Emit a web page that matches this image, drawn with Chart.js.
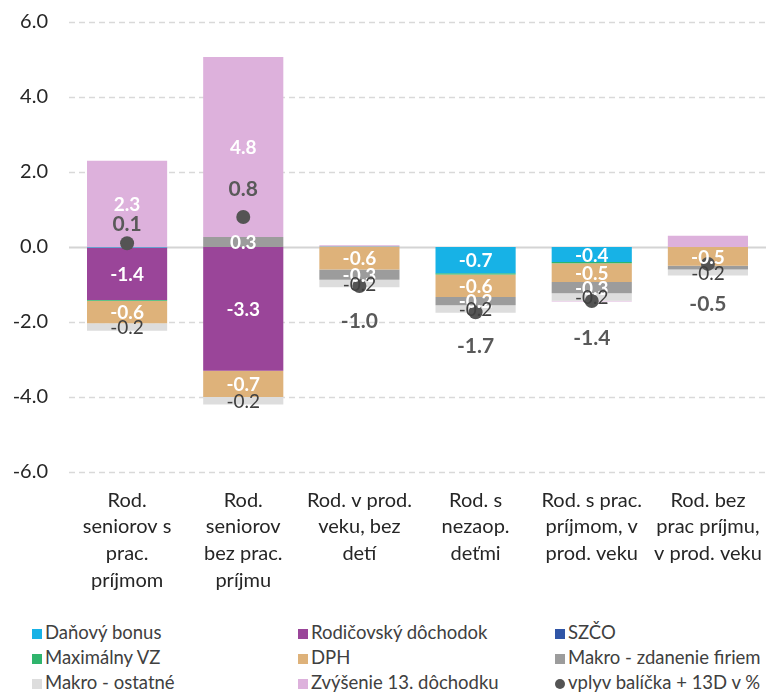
<!DOCTYPE html>
<html>
<head>
<meta charset="utf-8">
<script src="https://cdn.jsdelivr.net/npm/chart.js@4.4.1/dist/chart.umd.min.js"></script>
<style>
  html, body { margin: 0; padding: 0; background: #fff; }
  #wrap { position: relative; width: 766px; height: 698px; overflow: hidden; }
  #chart { position: absolute; left: 0; top: 0; }
  .legend { position: absolute; left: 0; top: 622px; width: 766px; height: 76px;
            font-family: Lato, "Open Sans", sans-serif; font-size: 18.5px; color: #404040; }
  .item { position: absolute; white-space: nowrap; line-height: 20px; }
  .item i { display: inline-block; width: 10px; height: 10px; margin-right: 3px; vertical-align: 0px; }
  .item i.dot { border-radius: 50%; }
</style>
</head>
<body>
<div id="wrap">
  <canvas id="chart" width="766" height="612"></canvas>
  <div class="legend" id="legend"></div>
</div>
<script>
// ============================================
// Data
// ============================================
const categories = [
    ['Rod.', 'seniorov s', 'prac.', 'príjmom'],
    ['Rod.', 'seniorov', 'bez prac.', 'príjmu'],
    ['Rod. v prod.', 'veku, bez', 'detí'],
    ['Rod. s', 'nezaop.', 'deťmi'],
    ['Rod. s prac.', 'príjmom, v', 'prod. veku'],
    ['Rod. bez', 'prac príjmu,', 'v prod. veku']
];

const danovyBonus    = [-0.01, 0, 0, -0.7, -0.4, 0];
const rodicovsky     = [-1.4, -3.3, 0, 0, 0, 0];
const szco           = [0, 0, 0, 0, 0, 0];
const maximalnyVZ    = [-0.02, 0, 0.01, -0.03, -0.03, 0];
const dph            = [-0.6, -0.7, -0.6, -0.6, -0.5, -0.5];
const makroZdanenie  = [0, 0.27, -0.27, -0.22, -0.3, -0.1];
const makroOstatne   = [-0.2, -0.2, -0.2, -0.2, -0.2, -0.16];
const zvysenie13D    = [2.3, 4.8, 0.04, 0, -0.02, 0.3];
const vplyvBalicka   = [0.1, 0.8, -1.04, -1.74, -1.44, -0.45];

const yTicks = [6, 4, 2, 0, -2, -4, -6];

const FONT = 'Lato, "Open Sans", sans-serif';

// label offsets of the dot series (pixels from the point, Excel placed them by hand)
const dotLabelOffset = [-19, -28, 35, 34, 37, 40];

// ============================================
// Plugins
// ============================================
const gridPlugin = {
    id: 'gridLines',
    beforeDatasetsDraw(chart) {
        const { ctx, chartArea, scales } = chart;
        ctx.save();
        yTicks.forEach(v => {
            const y = Math.round(scales.y.getPixelForValue(v)) + 0.5;
            ctx.beginPath();
            if (v === 0) {
                ctx.setLineDash([]);
                ctx.strokeStyle = '#d4d4d4';
                ctx.lineWidth = 2;
            } else {
                ctx.setLineDash([6, 4]);
                ctx.strokeStyle = '#d9d9d9';
                ctx.lineWidth = 1.3;
            }
            ctx.moveTo(chartArea.left, y);
            ctx.lineTo(chartArea.right, y);
            ctx.stroke();
        });
        ctx.restore();
    }
};

const labelPlugin = {
    id: 'valueLabels',
    afterDatasetsDraw(chart) {
        const { ctx } = chart;
        ctx.save();
        ctx.textAlign = 'center';
        ctx.textBaseline = 'middle';
        chart.data.datasets.forEach((ds, i) => {
            const meta = chart.getDatasetMeta(i);
            if (ds.type === 'line') return;
            meta.data.forEach((el, j) => {
                const v = ds.data[j];
                if (Math.abs(v) < (ds.labelMin || 0.15)) return;
                ctx.font = (ds.labelBold === false ? '' : 'bold ') + '19px ' + FONT;
                ctx.fillStyle = ds.labelColor || '#ffffff';
                ctx.fillText(v.toFixed(1), el.x, (el.y + el.base) / 2 + 1);
            });
        });
        // dot series labels
        const dotIdx = chart.data.datasets.findIndex(d => d.type === 'line');
        const dotMeta = chart.getDatasetMeta(dotIdx);
        ctx.font = 'bold 21px ' + FONT;
        ctx.fillStyle = '#595959';
        dotMeta.data.forEach((pt, j) => {
            ctx.fillText(vplyvBalicka[j].toFixed(1), pt.x, pt.y + dotLabelOffset[j]);
        });
        ctx.restore();
    }
};

// ============================================
// Chart
// ============================================
function barSet(label, data, color, extra = {}) {
    return Object.assign({
        type: 'bar',
        label: label,
        data: data,
        backgroundColor: color,
        borderWidth: 0,
        stack: 'main',
        order: 1,
        categoryPercentage: 1,
        barPercentage: 0.69
    }, extra);
}

const datasets = [
    barSet('Daňový bonus', danovyBonus, '#17b2e6'),
    barSet('Rodičovský dôchodok', rodicovsky, '#9a4599'),
    barSet('SZČO', szco, '#3055a6'),
    barSet('Maximálny VZ', maximalnyVZ, '#2fb46c'),
    barSet('DPH', dph, '#deb27a'),
    barSet('Makro - zdanenie firiem', makroZdanenie, '#9c9c9c'),
    barSet('Makro - ostatné', makroOstatne, '#dddddd', { labelColor: '#404040', labelBold: false }),
    barSet('Zvýšenie 13. dôchodku', zvysenie13D, '#ddb1dc', { labelMin: 1 }),
    {
        type: 'line',
        label: 'vplyv balíčka + 13D v %',
        data: vplyvBalicka,
        showLine: false,
        stack: 'dot',
        order: 0,
        pointRadius: 7,
        pointHoverRadius: 7,
        pointBackgroundColor: '#545454',
        pointBorderWidth: 0,
        backgroundColor: '#545454'
    }
];

const chart = new Chart(document.getElementById('chart'), {
    data: { labels: categories, datasets: datasets },
    options: {
        responsive: false,
        animation: false,
        layout: { autoPadding: false, padding: { top: 22, right: 0, bottom: 0, left: 0 } },
        plugins: {
            legend: { display: false },
            tooltip: { enabled: false }
        },
        scales: {
            x: {
                stacked: true,
                grid: { display: false, drawTicks: false },
                border: { display: false },
                ticks: {
                    color: '#262626',
                    font: { family: FONT, size: 20, lineHeight: 1.33 },
                    padding: 15,
                    maxRotation: 0,
                    autoSkip: false
                },
                afterFit: (scale) => {
                    scale.height = 140;
                    scale.paddingLeft = 0;
                    scale.paddingRight = 0;
                }
            },
            y: {
                stacked: true,
                min: -6,
                max: 6,
                grid: { display: false, drawTicks: false },
                border: { display: false },
                ticks: {
                    stepSize: 2,
                    color: '#262626',
                    font: { family: FONT, size: 20 },
                    padding: 21,
                    callback: (v) => v.toFixed(1)
                },
                afterFit: (scale) => {
                    scale.width = 69;
                    scale.paddingTop = 0;
                    scale.paddingBottom = 0;
                }
            }
        }
    },
    plugins: [gridPlugin, labelPlugin]
});

// ============================================
// Legend (HTML, three columns)
// ============================================
const legendCols = [32, 298, 555];
const legendRowGap = 25;
const legendEl = document.getElementById('legend');
datasets.forEach((ds, k) => {
    const div = document.createElement('div');
    div.className = 'item';
    div.style.left = legendCols[k % 3] + 'px';
    div.style.top = (Math.floor(k / 3) * legendRowGap) + 'px';
    const mark = ds.type === 'line' ? '<i class="dot"' : '<i';
    div.innerHTML = mark + ' style="background:' + ds.backgroundColor + '"></i>' + ds.label;
    legendEl.appendChild(div);
});
</script>
</body>
</html>
